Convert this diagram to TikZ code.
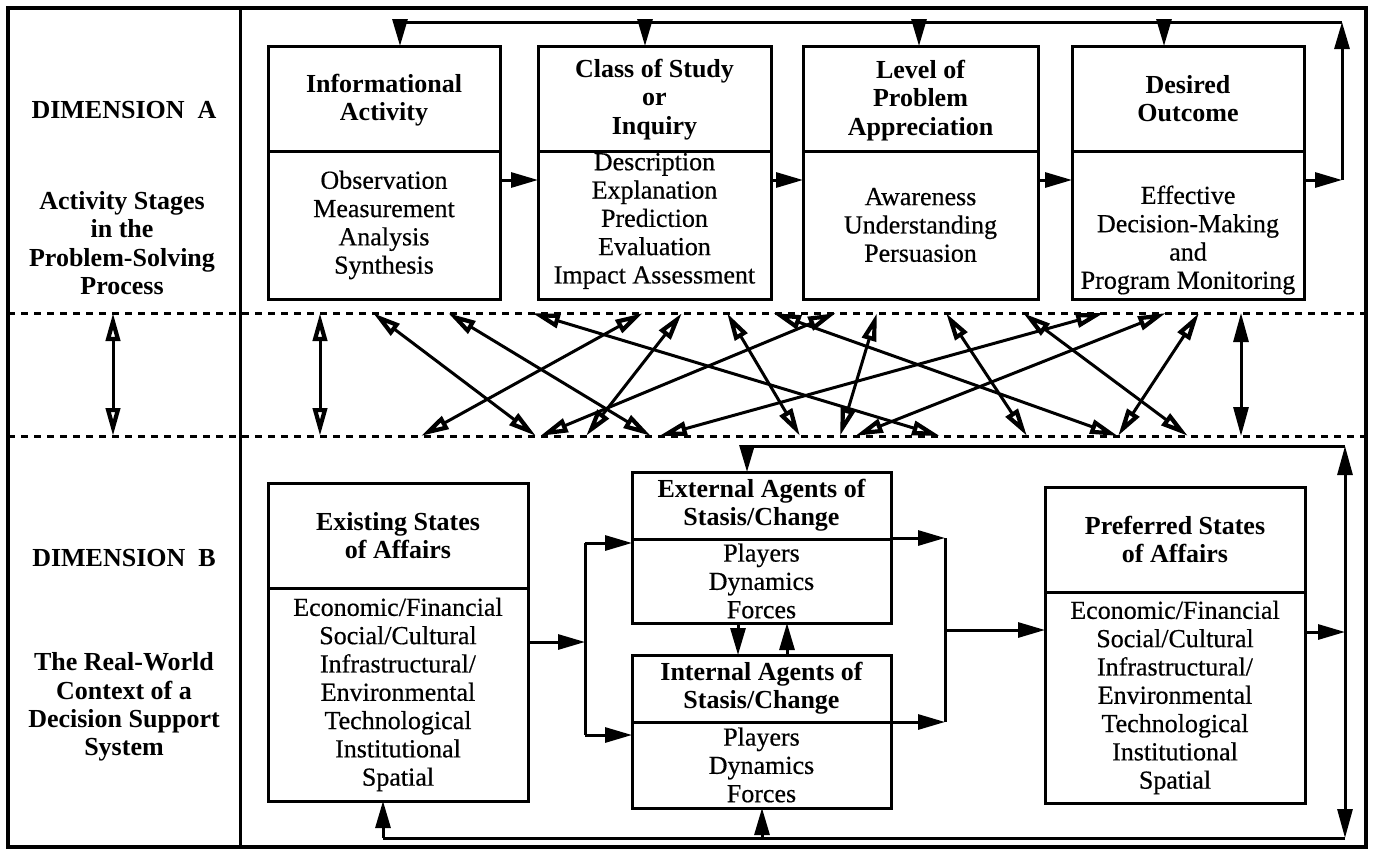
\documentclass[tikz,border=0pt]{standalone}
\usepackage{fontspec}
\setmainfont{Liberation Serif}
\newfontfamily\bodyserif[FakeBold=0.5]{Liberation Serif}
\usetikzlibrary{arrows.meta,calc}
\begin{document}
\begin{tikzpicture}[x=1pt,y=-1pt,
  every node/.style={inner sep=0pt, outer sep=0pt},
  part/.style={draw, line width=3pt, anchor=north west},
  hdr/.style={font=\fontsize{26}{28.3}\selectfont\bfseries, align=center},
  txt/.style={font=\bodyserif\fontsize{26}{28.3}\selectfont, align=center},
  flow/.style={line width=3pt, -{Triangle[length=27pt,width=15pt]}},
  link/.style={line width=3pt},
  xarrow/.style={line width=3pt, {Triangle[open,length=28pt,width=14pt,line width=4.2pt]}-{Triangle[open,length=28pt,width=14pt,line width=4.2pt]}},
  vsolid/.style={line width=3pt, {Triangle[length=29pt,width=15pt]}-{Triangle[length=29pt,width=15pt]}},
  sep/.style={line width=3pt, dash pattern=on 7pt off 6pt},
]
\useasboundingbox (0,0) rectangle (1374,854);

% outer frame and label column
\draw[line width=3.2pt] (8,8) rectangle (1366,847);
\coordinate (colT) at (240,8);
\coordinate (colB) at (240,847);
\draw[line width=3pt] (colT) -- (colB);

% band separators
\coordinate (dA0) at (8,313);   \coordinate (dA1) at (1366,313);
\coordinate (dB0) at (8,436);   \coordinate (dB1) at (1366,436);
\draw[sep] (dA0) -- (dA1);
\draw[sep] (dB0) -- (dB1);

% ---------- Dimension A: activity stages ----------
\node[part, minimum width=232pt, minimum height=105pt] (infoH) at (268,46) {};
\node[part, minimum width=232pt, minimum height=148pt] (infoB) at (268,151) {};
\node[part, minimum width=233pt, minimum height=105pt] (classH) at (538,46) {};
\node[part, minimum width=233pt, minimum height=148pt] (classB) at (538,151) {};
\node[part, minimum width=235pt, minimum height=105pt] (levelH) at (803,46) {};
\node[part, minimum width=235pt, minimum height=148pt] (levelB) at (803,151) {};
\node[part, minimum width=232pt, minimum height=105pt] (outH) at (1072,46) {};
\node[part, minimum width=232pt, minimum height=148pt] (outB) at (1072,151) {};

\node[hdr] (infoHt) at ($(infoH.center)+(0,2)$) {Informational\\Activity};
\node[txt] (infoBt) at (infoB.center) {Observation\\Measurement\\Analysis\\Synthesis};
\node[hdr] (classHt) at ($(classH.center)+(0,1)$) {Class of Study\\or\\Inquiry};
\node[txt] (classBt) at ($(classB.center)+(0,-4)$) {Description\\Explanation\\Prediction\\Evaluation\\Impact Assessment};
\node[hdr] (levelHt) at ($(levelH.center)+(0,2)$) {Level of\\Problem\\Appreciation};
\node[txt] (levelBt) at (levelB.center) {Awareness\\Understanding\\Persuasion};
\node[hdr] (outHt) at (outH.center) {Desired\\Outcome};
\node[txt] (outBt) at ($(outB.center)+(0,15)$) {Effective\\Decision-Making\\and\\Program Monitoring};

% forward flow and feedback loop
\coordinate (rowA) at (0,180);
\draw[flow] (infoB.east |- rowA) -- (classB.west |- rowA);
\draw[flow] (classB.east |- rowA) -- (levelB.west |- rowA);
\draw[flow] (levelB.east |- rowA) -- (outB.west |- rowA);
\coordinate (loopR) at (1342,180);
\coordinate (loopTR) at (1342,22);
\coordinate (loopTL) at (400,22);
\draw[flow] (outB.east |- rowA) -- (loopR);
\draw[flow] (loopR) -- (loopTR);
\draw[link] (loopTR) -- (loopTL);
\coordinate (dn1) at (400,22);
\coordinate (dn2) at (645,22);
\coordinate (dn3) at (919,22);
\coordinate (dn4) at (1164,22);
\draw[flow] (dn1) -- (dn1 |- infoH.north);
\draw[flow] (dn2) -- (dn2 |- classH.north);
\draw[flow] (dn3) -- (dn3 |- levelH.north);
\draw[flow] (dn4) -- (dn4 |- outH.north);

% ---------- linkage band ----------
\coordinate (vLa) at (113,313);  \coordinate (vLb) at (113,436);
\coordinate (vMa) at (320,313);  \coordinate (vMb) at (320,436);
\coordinate (vRa) at (1241,313); \coordinate (vRb) at (1241,436);
\draw[xarrow] (vLa) -- (vLb);
\draw[xarrow] (vMa) -- (vMb);
\draw[vsolid] (vRa) -- (vRb);

\coordinate (tA) at (373,313);  \coordinate (bA) at (536,436);
\coordinate (tB) at (448,313);  \coordinate (bB) at (651,436);
\coordinate (tC) at (643,313);  \coordinate (bC) at (421,436);
\coordinate (tD) at (682,313);  \coordinate (bD) at (586,436);
\coordinate (tE) at (836,313);  \coordinate (bE) at (540,436);
\coordinate (tF) at (532,313);  \coordinate (bF) at (940,436);
\coordinate (tG) at (1104,313); \coordinate (bG) at (659,436);
\coordinate (tH) at (727,313);  \coordinate (bH) at (800,436);
\coordinate (tI) at (773,313);  \coordinate (bI) at (1118,436);
\coordinate (tJ) at (877,313);  \coordinate (bJ) at (840,436);
\coordinate (tK) at (946,313);  \coordinate (bK) at (1027,436);
\coordinate (tL) at (1023,313); \coordinate (bL) at (1188,436);
\coordinate (tM) at (1199,313); \coordinate (bM) at (1118,436);
\coordinate (tN) at (1166,313); \coordinate (bN) at (855,436);
\foreach \k in {A,B,C,D,E,F,G,H,I,J,K,L,M,N}
  \draw[xarrow] (t\k) -- (b\k);

% ---------- Dimension B: real-world context ----------
\node[part, minimum width=260pt, minimum height=105pt] (exH) at (268,483) {};
\node[part, minimum width=260pt, minimum height=213pt] (exB) at (268,588) {};
\node[part, minimum width=259pt, minimum height=67pt] (extH) at (632,472) {};
\node[part, minimum width=259pt, minimum height=84pt] (extB) at (632,539) {};
\node[part, minimum width=259pt, minimum height=67pt] (intH) at (632,655) {};
\node[part, minimum width=259pt, minimum height=86pt] (intB) at (632,722) {};
\node[part, minimum width=260pt, minimum height=105pt] (prH) at (1045,487) {};
\node[part, minimum width=260pt, minimum height=211pt] (prB) at (1045,592) {};

\node[hdr] (exHt) at (exH.center) {Existing States\\of Affairs};
\node[txt] (exBt) at (exB.center) {Economic/Financial\\Social/Cultural\\Infrastructural/\\Environmental\\Technological\\Institutional\\Spatial};
\node[hdr] (extHt) at (extH.center) {External Agents of\\Stasis/Change};
\node[txt] (extBt) at (extB.center) {Players\\Dynamics\\Forces};
\node[hdr] (intHt) at (intH.center) {Internal Agents of\\Stasis/Change};
\node[txt] (intBt) at (intB.center) {Players\\Dynamics\\Forces};
\node[hdr] (prHt) at (prH.center) {Preferred States\\of Affairs};
\node[txt] (prBt) at (prB.center) {Economic/Financial\\Social/Cultural\\Infrastructural/\\Environmental\\Technological\\Institutional\\Spatial};

% existing states feed both agent groups
\coordinate (jL) at (585,642);
\coordinate (jLt) at (585,543);
\coordinate (jLb) at (585,735);
\draw[flow] (exB.east |- jL) -- (jL);
\draw[link] (jLt) -- (jLb);
\draw[flow] (jLt) -- (extB.west |- jLt);
\draw[flow] (jLb) -- (intB.west |- jLb);

% agents interact
\coordinate (eiD) at (738,0);
\coordinate (eiU) at (787,0);
\draw[flow] (eiD |- extB.south) -- (eiD |- intH.north);
\draw[flow] (eiU |- intH.north) -- (eiU |- extB.south);

% agents lead to preferred states
\coordinate (jRt) at (945,538);
\coordinate (jRb) at (945,722);
\coordinate (jR) at (945,630);
\draw[flow] (extB.east |- jRt) -- (jRt);
\draw[flow] (intB.east |- jRb) -- (jRb);
\draw[link] (jRt) -- (jRb);
\draw[flow] (jR) -- (prB.west |- jR);

% feedback from preferred states
\coordinate (rB) at (1345,632);
\coordinate (rTop) at (1345,446);
\coordinate (rBot) at (1345,838);
\draw[flow] (prB.east |- rB) -- (rB);
\draw[vsolid] (rTop) -- (rBot);
\coordinate (fbT) at (747,446);
\draw[link] (rTop) -- (fbT);
\draw[flow] (fbT) -- (fbT |- extH.north);
\coordinate (fbB1) at (383,838);
\coordinate (fbB2) at (762,838);
\draw[link] (rBot) -- (fbB1);
\draw[flow] (fbB1) -- (fbB1 |- exB.south);
\draw[flow] (fbB2) -- (fbB2 |- intB.south);

% ---------- label column ----------
\node[hdr] (dimA) at (124,110) {DIMENSION\ \ A};
\node[hdr] (dimAt) at (122,243) {Activity Stages\\in the\\Problem-Solving\\Process};
\node[hdr] (dimB) at (124,558) {DIMENSION\ \ B};
\node[hdr] (dimBt) at (124,707) {The Real-World\\Context of a\\Decision Support\\System};
\end{tikzpicture}
\end{document}
